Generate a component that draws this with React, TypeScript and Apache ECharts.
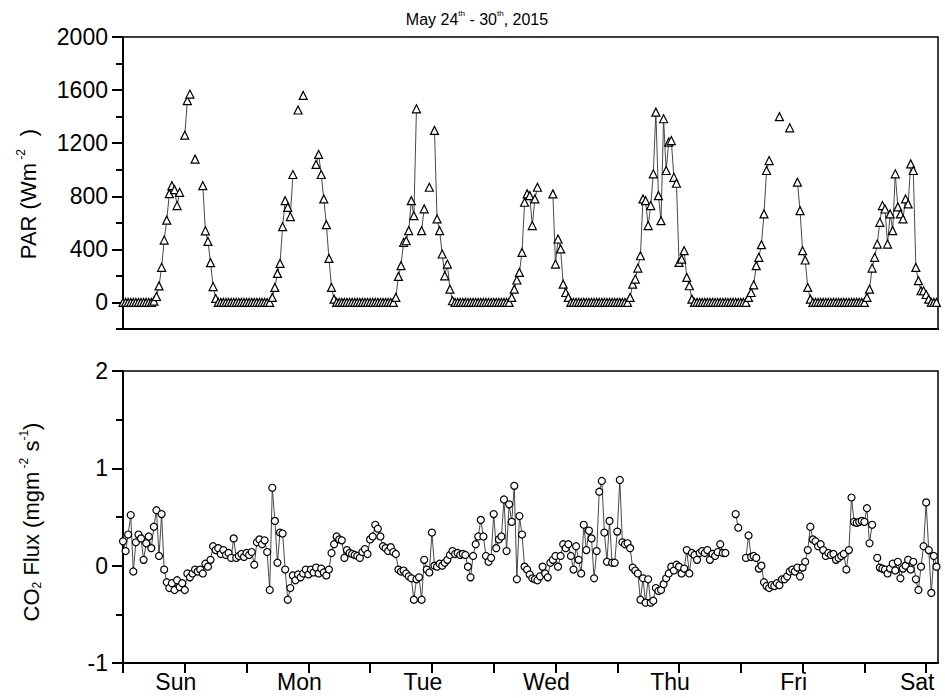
import { useEffect, useRef } from "react";
import * as echarts from "echarts";

// Day names shown under the noon tick of each day (half-hour steps, 48 per day)
const dayLabels = ["Sun", "Mon", "Tue", "Wed", "Thu", "Fri", "Sat"];
const hourTicks = [0, 24, 48, 72, 96, 120, 144, 168, 192, 216, 240, 264, 288, 312];
const dayLabelTicks = [24, 72, 120, 168, 216, 264, 312];
const parMajorTicks = [0, 400, 800, 1200, 1600, 2000];
const parMinorTicks = [-200, 200, 600, 1000, 1400, 1800];

// Photosynthetically active radiation, W m-2, half-hourly (null = missing record)
const parSun = [
  0, 0, 0, 0, 0, 0, 0, 0, 0, 0, 0, 0,
  10, 45, 125, 265, 470, 620, 820, 880, 850, 730, 830, null,
  1260, 1520, 1570, null, 1080, null, null, 880, 540, 460, 300, 120,
  30, 0, 0, 0, 0, 0, 0, 0, 0, 0, 0, 0,
];
const parMon = [
  0, 0, 0, 0, 0, 0, 0, 0, 0, 0,
  38, 113, 219, 294, 571, 767, 717, 647, 964, null, 1450, null, 1560,
  null, null, null, null, 1040, 1115, 964, 780, 586, 332, 113, 25,
  0, 0, 0, 0, 0, 0, 0, 0, 0, 0, 0, 0, 0,
];
const parTue = [
  0, 0, 0, 0, 0, 0, 0, 0, 0, 0,
  38, 196, 277, 453, 465, 541, 767, 654, 1459, null, 541, 705,
  null, 868, null, 1296, 629, 541, 365, 201, 289, 100, 13,
  0, 0, 0, 0, 0, 0, 0, 0, 0, 0, 0, 0, 0, 0, 0,
];
const parWed = [
  0, 0, 0, 0, 0, 0, 0,
  38, 100, 169, 226, 377, 755, 818, 805, 579, 780, 868,
  null, null, null, null, null, 818, 289, 478, 403, 138, 75, 38,
  0, 0, 0, 0, 0, 0, 0, 0, 0, 0, 0, 0, 0, 0, 0, 0, 0, 0,
];
const parThu = [
  0, 0, 0, 0, 0,
  38, 138, 176, 259, 352, 780, 767, 579, 730, 969, 1434, 805, 616,
  1384, 994, 1208, 1220, 943, 898, 302, 327, 390, 189, 126, 25,
  0, 0, 0, 0, 0, 0, 0, 0, 0, 0, 0, 0, 0, 0, 0, 0, 0, 0,
];
const parFri = [
  0, 0, 0,
  38, 75, 133, 277, 340, 435, 667, 994, 1069, null, null, null, 1400,
  null, null, null, 1316, null, null, 906, 692, 390, 320, 113, 25,
  0, 0, 0, 0, 0, 0, 0, 0, 0, 0, 0, 0, 0, 0, 0, 0, 0, 0, 0, 0,
];
const parSat = [
  0, 38, 100, 259, 340, 440, 604, 730, 704, 440, 667, 541, 969, 720,
  667, 629, 780, 742, 1044, 994, 264, 164, 88, 88, 60, 25, 0, 0, 0,
];

// CO2 flux, mg m-2 s-1, half-hourly
const fluxSun = [
  0.25, 0.15, 0.32, 0.52, -0.06, 0.24, 0.32, 0.28, 0.06, 0.23, 0.3, 0.18,
  0.4, 0.57, 0.1, 0.53, -0.04, -0.17, -0.23, -0.18, -0.25, -0.15, -0.22, -0.18,
  -0.25, -0.08, -0.12, -0.08, -0.04, -0.06, -0.04, -0.08, 0.02, -0.01, 0.06, 0.2,
  0.16, 0.18, 0.12, 0.16, 0.11, 0.13, 0.08, 0.28, 0.08, 0.1, 0.12, 0.09,
];
const fluxMon = [
  0.13, 0.11, 0.14, 0.01, 0.24, 0.27, 0.22, 0.26, 0.14, -0.25, 0.8, 0.46,
  0.03, 0.34, 0.33, -0.04, -0.35, -0.23, -0.1, -0.15, -0.09, -0.12, -0.08, -0.04,
  -0.09, -0.04, -0.07, -0.02, -0.08, -0.03, -0.07, -0.1, -0.04, 0.13, 0.22, 0.3,
  0.27, 0.26, 0.08, 0.16, 0.13, 0.12, 0.11, 0.1, 0.08, 0.14, 0.17, 0.12,
];
const fluxTue = [
  0.27, 0.3, 0.42, 0.38, 0.3, 0.2, 0.18, 0.15, 0.19, 0.14, 0.12, -0.04,
  -0.06, -0.05, -0.08, -0.11, -0.13, -0.35, -0.14, -0.12, -0.35, 0.06, -0.04, -0.07,
  0.34, 0.0, -0.01, 0.02, 0.0, 0.03, 0.06, 0.11, 0.15, 0.12, 0.13, 0.11,
  0.12, 0.11, -0.01, -0.12, 0.1, 0.22, 0.3, 0.47, 0.3, 0.1, 0.04, 0.08,
];
const fluxWed = [
  0.53, 0.18, 0.27, 0.3, 0.68, 0.15, 0.63, 0.45, 0.82, -0.14, 0.51, 0.32,
  -0.01, -0.04, -0.09, -0.13, -0.14, -0.15, -0.11, -0.01, -0.08, -0.12, 0.03, 0.06,
  0.1, -0.01, 0.1, 0.22, 0.18, 0.22, 0.1, -0.04, 0.2, 0.06, -0.08, 0.42,
  0.16, 0.36, 0.28, -0.13, 0.15, 0.76, 0.87, 0.34, 0.04, 0.46, 0.03, 0.03,
];
const fluxThu = [
  0.35, 0.88, 0.24, 0.22, 0.23, 0.18, -0.02, -0.05, -0.08, -0.35, -0.13, -0.38,
  -0.14, -0.38, -0.36, -0.23, -0.26, -0.25, -0.19, -0.13, -0.08, -0.01, -0.05, 0.01,
  -0.01, -0.08, -0.03, 0.16, -0.08, 0.13, 0.11, 0.06, 0.13, 0.15, 0.13, 0.16,
  0.06, 0.12, 0.1, 0.14, 0.22, 0.13, 0.13, null, null, null, 0.53, 0.39,
];
const fluxFri = [
  null, null, 0.08, 0.31, 0.09, 0.1, 0.08, -0.03, 0.0, -0.17, -0.21, -0.23,
  -0.2, -0.21, -0.18, -0.2, -0.14, -0.14, -0.11, -0.06, -0.04, -0.06, -0.02, -0.11,
  -0.02, 0.04, 0.16, 0.4, 0.27, 0.25, 0.2, 0.22, 0.16, 0.1, 0.13, 0.11,
  0.12, 0.06, 0.08, 0.1, 0.12, -0.04, 0.16, 0.7, 0.45, 0.44, 0.45, 0.46,
];
const fluxSat = [
  0.45, 0.59, 0.23, 0.42, null, 0.08, -0.02, -0.03, -0.04, -0.08, -0.03, 0.02,
  -0.05, 0.04, -0.13, -0.03, 0.0, 0.06, -0.04, 0.04, -0.14, -0.25, -0.01, 0.2,
  0.65, 0.16, -0.28, 0.1, -0.01,
];

const parDays = [parSun, parMon, parTue, parWed, parThu, parFri, parSat];
const fluxDays = [fluxSun, fluxMon, fluxTue, fluxWed, fluxThu, fluxFri, fluxSat];

// Flatten the daily blocks into [step, value] pairs; gaps become "-"
function toSeries(days: (number | null)[][]) {
  const out: [number, number | string][] = [];
  let step = 0;
  days.forEach((day) =>
    day.forEach((v) => {
      out.push([step, v === null ? "-" : v]);
      step += 1;
    })
  );
  return out;
}

const FONT = "'Liberation Sans', Arial, sans-serif";
const X_MAX = 316.6;

export default function App() {
  const ref = useRef<HTMLDivElement>(null);

  useEffect(() => {
    if (!ref.current) return;
    const chart = echarts.init(ref.current, null, { renderer: "svg" });

    const axisLine = { show: true, onZero: false, lineStyle: { color: "#000", width: 2 } };
    const labelStyle = { color: "#000", fontFamily: FONT, fontSize: 23 };
    const plain = (v: number) => String(v);

    chart.setOption({
      animation: false,
      backgroundColor: "#fff",
      grid: [
        { left: 123, top: 37, width: 815, height: 292, show: true, borderColor: "#000", borderWidth: 1.5, backgroundColor: "transparent" },
        { left: 123, top: 371, width: 815, height: 292, show: true, borderColor: "#000", borderWidth: 1.5, backgroundColor: "transparent" },
      ],
      xAxis: [
        {
          gridIndex: 0, type: "value", min: 0, max: X_MAX,
          axisLine, axisTick: { show: false }, axisLabel: { show: false }, splitLine: { show: false },
        },
        {
          gridIndex: 1, type: "value", min: 0, max: X_MAX,
          axisLine,
          axisTick: { show: true, customValues: hourTicks, length: 10, lineStyle: { color: "#000", width: 2 } },
          axisLabel: {
            customValues: dayLabelTicks,
            ...labelStyle,
            margin: 7,
            padding: [0, 18, 0, 0],
            formatter: (v: number) => dayLabels[Math.round((v - 24) / 48)] ?? "",
          },
          splitLine: { show: false },
        },
      ],
      yAxis: [
        {
          gridIndex: 0, type: "value", min: -200, max: 2000,
          axisLine,
          axisTick: { show: true, customValues: parMajorTicks, length: 11, lineStyle: { color: "#000", width: 2 } },
          axisLabel: { customValues: parMajorTicks, ...labelStyle, margin: 15, formatter: plain },
          splitLine: { show: false },
        },
        {
          gridIndex: 0, type: "value", min: -200, max: 2000, position: "left",
          axisLine: { show: false },
          axisTick: { show: true, customValues: parMinorTicks, length: 7, lineStyle: { color: "#000", width: 2 } },
          axisLabel: { show: false },
          splitLine: { show: false },
        },
        {
          gridIndex: 1, type: "value", min: -1, max: 2, interval: 1,
          axisLine,
          axisTick: { show: true, length: 11, lineStyle: { color: "#000", width: 2 } },
          minorTick: { show: true, splitNumber: 2, length: 7, lineStyle: { color: "#000", width: 2 } },
          axisLabel: { ...labelStyle, margin: 15, formatter: plain },
          splitLine: { show: false },
          minorSplitLine: { show: false },
        },
      ],
      series: [
        {
          type: "line", xAxisIndex: 0, yAxisIndex: 0,
          data: toSeries(parDays),
          symbol: "triangle", symbolSize: 8, showSymbol: true, showAllSymbol: true,
          connectNulls: false,
          lineStyle: { color: "#333", width: 0.9 },
          itemStyle: { color: "#fff", borderColor: "#000", borderWidth: 1.2 },
          emphasis: { disabled: true },
        },
        {
          type: "line", xAxisIndex: 1, yAxisIndex: 2,
          data: toSeries(fluxDays),
          symbol: "circle", symbolSize: 7, showSymbol: true, showAllSymbol: true,
          connectNulls: false,
          lineStyle: { color: "#333", width: 0.9 },
          itemStyle: { color: "#fff", borderColor: "#000", borderWidth: 1.2 },
          emphasis: { disabled: true },
        },
      ],
      graphic: [
        {
          type: "text", x: 477, y: 18,
          style: {
            text: "{a|May 24}{s|th}{a| - 30}{s|th}{a|, 2015}",
            align: "center", verticalAlign: "middle",
            rich: {
              a: { fontFamily: FONT, fontSize: 16, lineHeight: 18, fill: "#000", verticalAlign: "bottom" },
              s: { fontFamily: FONT, fontSize: 8, lineHeight: 8, fill: "#000", verticalAlign: "top" },
            },
          },
        },
        {
          type: "text", x: 27, y: 194, rotation: Math.PI / 2,
          style: {
            text: "{a|PAR (Wm}{s| -2  }{a| )}",
            align: "center", verticalAlign: "middle",
            rich: {
              a: { fontFamily: FONT, fontSize: 22, lineHeight: 25, fill: "#000", verticalAlign: "bottom" },
              s: { fontFamily: FONT, fontSize: 12, lineHeight: 12, fill: "#000", verticalAlign: "top" },
            },
          },
        },
        {
          type: "text", x: 30, y: 522, rotation: Math.PI / 2,
          style: {
            text: "{a|CO}{b|2}{a| Flux (mgm}{s| -2}{a| s}{s|-1}{a|)}",
            align: "center", verticalAlign: "middle",
            rich: {
              a: { fontFamily: FONT, fontSize: 22, lineHeight: 25, fill: "#000", verticalAlign: "bottom" },
              s: { fontFamily: FONT, fontSize: 12, lineHeight: 12, fill: "#000", verticalAlign: "top" },
              b: { fontFamily: FONT, fontSize: 12, lineHeight: 12, fill: "#000", verticalAlign: "bottom" },
            },
          },
        },
      ],
    });

    return () => chart.dispose();
  }, []);

  return (
    <div
      ref={ref}
      style={{ position: "fixed", left: 0, top: 0, width: 945, height: 698, background: "#fff" }}
    />
  );
}
